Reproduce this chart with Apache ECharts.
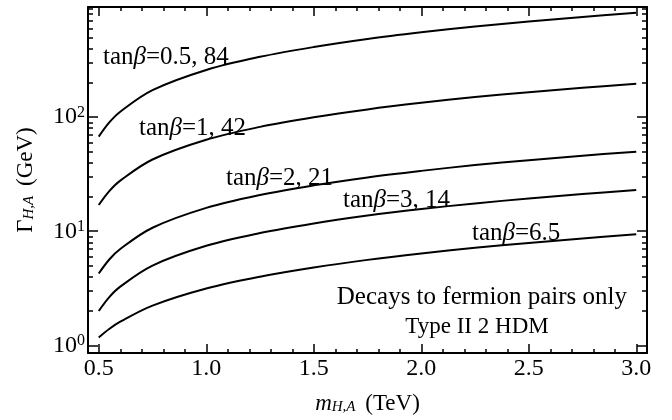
<!DOCTYPE html>
<html>
<head>
<meta charset="utf-8">
<script src="https://cdn.jsdelivr.net/npm/echarts@6/dist/echarts.min.js"></script>
<style>
  html, body { margin: 0; background: #fff; }
  #chart { width: 672px; height: 420px; }
</style>
</head>
<body>
<div id="chart"></div>
<script>
// masses (TeV) and widths (GeV)
const massTeV = [0.5, 0.55, 0.6, 0.75, 1.0, 1.25, 1.5, 1.75, 2.0, 2.25, 2.5, 2.75, 3.0]
const widthTan05 = [67.6, 90.4, 111.7, 172.6, 259.4, 338.1, 412.1, 484.9, 554.6, 624.4, 690.2, 756.8, 822.2]
const widthTan1 = [17.0, 22.57, 27.77, 42.56, 63.42, 82.22, 99.84, 117.0, 133.6, 150.1, 165.5, 181.1, 196.5]
const widthTan2 = [4.26, 5.68, 6.99, 10.73, 16.02, 20.79, 25.26, 29.65, 33.83, 38.03, 41.98, 45.95, 49.85]
const widthTan3 = [2.0, 2.66, 3.27, 5.0, 7.45, 9.64, 11.7, 13.71, 15.64, 17.55, 19.36, 21.18, 22.96]
const widthTan65 = [1.17, 1.395, 1.609, 2.228, 3.145, 3.998, 4.812, 5.611, 6.387, 7.158, 7.897, 8.637, 9.4]

// tick values
const xMajor = [0.5, 1.0, 1.5, 2.0, 2.5, 3.0]
const xMinor = [0.6, 0.7, 0.8, 0.9, 1.1, 1.2, 1.3, 1.4, 1.6, 1.7, 1.8, 1.9,
  2.1, 2.2, 2.3, 2.4, 2.6, 2.7, 2.8, 2.9]
const yMajor = [1, 10, 100]
const yMinor = [2, 3, 4, 5, 6, 7, 8, 9, 20, 30, 40, 50, 60, 70, 80, 90,
  200, 300, 400, 500, 600, 700, 800, 900]

const serif = 'Liberation Serif'
const black = '#000'

const chart = echarts.init(document.getElementById('chart'))

const pair = (ys) => massTeV.map((m, i) => [m, ys[i]])

function xAxisDef(position, ticks, len, withLine, withLabels) {
  return {
    type: 'value',
    min: 0.45,
    max: 3.05,
    position: position,
    axisLine: { show: withLine, onZero: false, lineStyle: { color: black, width: 2 } },
    axisTick: { show: true, inside: true, length: len, customValues: ticks,
      lineStyle: { color: black, width: 1.5 } },
    axisLabel: withLabels ? {
      customValues: xMajor,
      formatter: (v) => v.toFixed(1),
      color: black, fontFamily: serif, fontSize: 24, margin: 4
    } : { show: false },
    splitLine: { show: false }
  }
}

function yAxisDef(position, ticks, len, withLine, withLabels) {
  return {
    type: 'log',
    logBase: 10,
    min: 0.856,
    max: 925,
    position: position,
    axisLine: { show: withLine, onZero: false, lineStyle: { color: black, width: 2 } },
    axisTick: { show: true, inside: true, length: len, customValues: ticks,
      lineStyle: { color: black, width: 1.5 } },
    axisLabel: withLabels ? {
      customValues: yMajor,
      formatter: (v) => '10{s|' + Math.round(Math.log10(v)) + '}',
      color: black, fontFamily: serif, fontSize: 24, margin: 3,
      rich: { s: { fontFamily: serif, fontSize: 16, color: black, verticalAlign: 'top', padding: [0, 0, 9, 0] } }
    } : { show: false },
    splitLine: { show: false }
  }
}

const xBottom = xAxisDef('bottom', xMajor, 9, true, true)
xBottom.name = '{i|m}{sub|H,A} (TeV)'
xBottom.nameLocation = 'middle'
xBottom.nameGap = 39
xBottom.nameTextStyle = {
  color: black, fontFamily: serif, fontSize: 23,
  rich: {
    i: { fontFamily: serif, fontSize: 23, fontStyle: 'italic', color: black },
    sub: { fontFamily: serif, fontSize: 15, fontStyle: 'italic', color: black, verticalAlign: 'bottom', padding: [6, 4, 0, 0] }
  }
}

const yLeft = yAxisDef('left', yMajor, 10, true, true)
yLeft.name = 'Γ{sub|H,A} (GeV)'
yLeft.nameLocation = 'middle'
yLeft.nameRotate = 90
yLeft.nameGap = 51
yLeft.nameTextStyle = {
  color: black, fontFamily: serif, fontSize: 23,
  rich: {
    sub: { fontFamily: serif, fontSize: 15, fontStyle: 'italic', color: black, verticalAlign: 'bottom', padding: [6, 4, 0, 0] }
  }
}

function note(text, x, y, align, size) {
  const px = size || 25
  return {
    type: 'text',
    x: x,
    y: y,
    z: 100,
    style: {
      text: text,
      fill: black,
      font: px + 'px "' + serif + '"',
      align: align || 'left',
      verticalAlign: 'middle',
      rich: { b: { fontFamily: serif, fontSize: px, fontStyle: 'italic', fill: black } }
    }
  }
}

const curves = [widthTan05, widthTan1, widthTan2, widthTan3, widthTan65]
const curveNames = ['tanβ=0.5, 84', 'tanβ=1, 42', 'tanβ=2, 21', 'tanβ=3, 14', 'tanβ=6.5']

const option = {
  animation: false,
  backgroundColor: '#fff',
  grid: { left: 88, right: 25, top: 7, bottom: 67 },
  xAxis: [
    xBottom,
    xAxisDef('bottom', xMinor, 4, false, false),
    xAxisDef('top', xMajor, 9, true, false),
    xAxisDef('top', xMinor, 4, false, false)
  ],
  yAxis: [
    yLeft,
    yAxisDef('left', yMinor, 5, false, false),
    yAxisDef('right', yMajor, 10, true, false),
    yAxisDef('right', yMinor, 5, false, false)
  ],
  series: curves.map((ys, i) => ({
    name: curveNames[i],
    type: 'line',
    xAxisIndex: 0,
    yAxisIndex: 0,
    data: pair(ys),
    smooth: 0.35,
    showSymbol: false,
    lineStyle: { color: black, width: 2 }
  })),
  graphic: [
    note('tan{b|β}=0.5, 84', 103, 57),
    note('tan{b|β}=1, 42', 139, 128),
    note('tan{b|β}=2, 21', 226, 178),
    note('tan{b|β}=3, 14', 343, 200),
    note('tan{b|β}=6.5', 472, 233),
    note('Decays to fermion pairs only', 627, 297, 'right'),
    note('Type II 2 HDM', 477, 327, 'center', 23)
  ]
}

chart.setOption(option)
</script>
</body>
</html>
